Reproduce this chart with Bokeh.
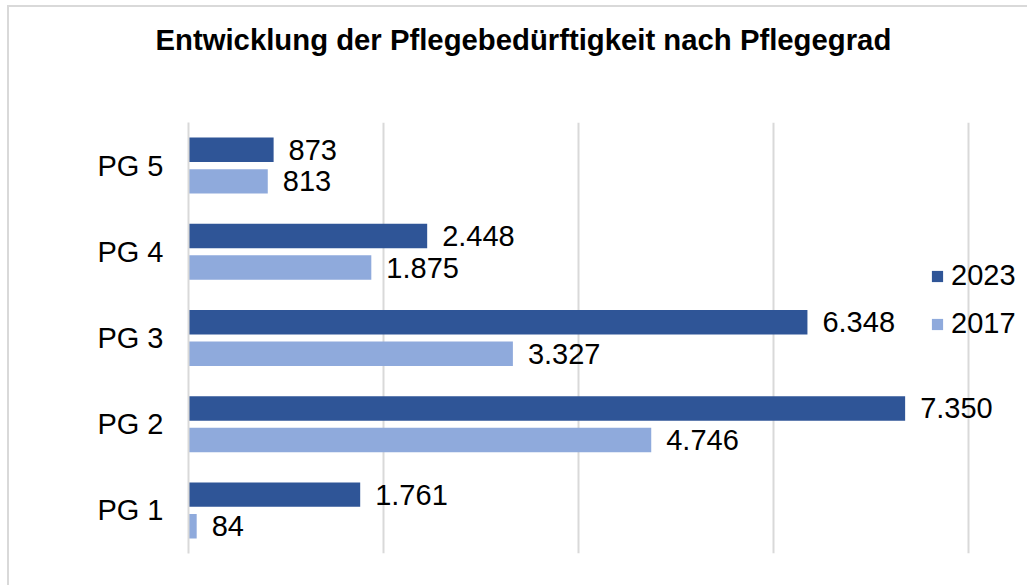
from bokeh.plotting import figure
from bokeh.models import (ColumnDataSource, FactorRange, Range1d, LabelSet, Legend,
                          LegendItem, FixedTicker, Title)
from bokeh.core.properties import value
from bokeh.transform import dodge
from bokeh.embed import file_html
from bokeh.resources import INLINE

# ---- data ----
categories = ["PG 1", "PG 2", "PG 3", "PG 4", "PG 5"]
values_2023 = [1761, 7350, 6348, 2448, 873]
values_2017 = [84, 4746, 3327, 1875, 813]
series_names = ["2023", "2017"]
x_grid_ticks = [0, 2000, 4000, 6000, 8000]
title_text = "Entwicklung der Pflegebedürftigkeit nach Pflegegrad"


def de_fmt(v):
    return f"{v:,}".replace(",", ".")


source = ColumnDataSource(dict(
    cat=categories,
    v2023=values_2023,
    v2017=values_2017,
    l2023=[de_fmt(v) for v in values_2023],
    l2017=[de_fmt(v) for v in values_2017],
))

DARK = "#2F5597"
LIGHT = "#8FAADC"
GRID = "#D9D9D9"
FONT = "Liberation Sans"

p = figure(
    width=1018, height=578,
    y_range=FactorRange(factors=categories),
    x_range=Range1d(0, 8605),
    output_backend="svg", toolbar_location=None,
    min_border_left=179, min_border_right=0,
    min_border_top=115, min_border_bottom=32,
)
p.styles = {"margin-left": "9px", "margin-top": "7px",
            "outline": "2px solid #D9D9D9"}
p.outline_line_color = None
p.background_fill_color = "white"
p.border_fill_color = "white"

off = 0.183
bh = 0.284
r1 = p.hbar(y=dodge("cat", off, range=p.y_range), left=0, right="v2023",
            height=bh, source=source, fill_color=DARK, line_color=None)
r2 = p.hbar(y=dodge("cat", -off, range=p.y_range), left=0, right="v2017",
            height=bh, source=source, fill_color=LIGHT, line_color=None)

for col, lab, o in (("v2023", "l2023", off), ("v2017", "l2017", -off)):
    ls = LabelSet(x=col, y=dodge("cat", o, range=p.y_range), text=lab,
                  source=source, x_offset=15, y_offset=0,
                  text_baseline="middle", text_align="left",
                  text_font=value(FONT), text_font_size=value("29px"),
                  text_color="black")
    p.add_layout(ls)

# axes
p.xaxis.visible = False
p.xgrid.ticker = FixedTicker(ticks=x_grid_ticks)
p.xgrid.grid_line_color = GRID
p.xgrid.grid_line_width = 2
p.ygrid.grid_line_color = None

p.yaxis.axis_line_color = GRID
p.yaxis.axis_line_width = 2
p.yaxis.major_tick_line_color = None
p.yaxis.minor_tick_line_color = None
p.yaxis.major_tick_in = 0
p.yaxis.major_tick_out = 0
p.yaxis.major_label_standoff = 25
p.yaxis.major_label_text_font = FONT
p.yaxis.major_label_text_font_size = "29px"
p.yaxis.major_label_text_color = "black"

# title: two empty trailing lines lift it to the top of the chart area
t = Title(text=title_text + "\n\n", align="left", offset=-33, standoff=2,
          text_font=FONT, text_font_size="29.3px", text_font_style="bold",
          text_color="black")
p.add_layout(t, "above")

legend = Legend(items=[LegendItem(label=series_names[0], renderers=[r1]),
                       LegendItem(label=series_names[1], renderers=[r2])],
                location=(742, 213), orientation="vertical",
                glyph_width=14, glyph_height=14, label_standoff=7,
                label_height=30, spacing=15, padding=0, margin=0,
                border_line_color=None, background_fill_alpha=0,
                label_text_font=FONT, label_text_font_size="29px",
                label_text_color="black")
p.add_layout(legend, "center")

open("out.html", "w").write(file_html(p, INLINE))
